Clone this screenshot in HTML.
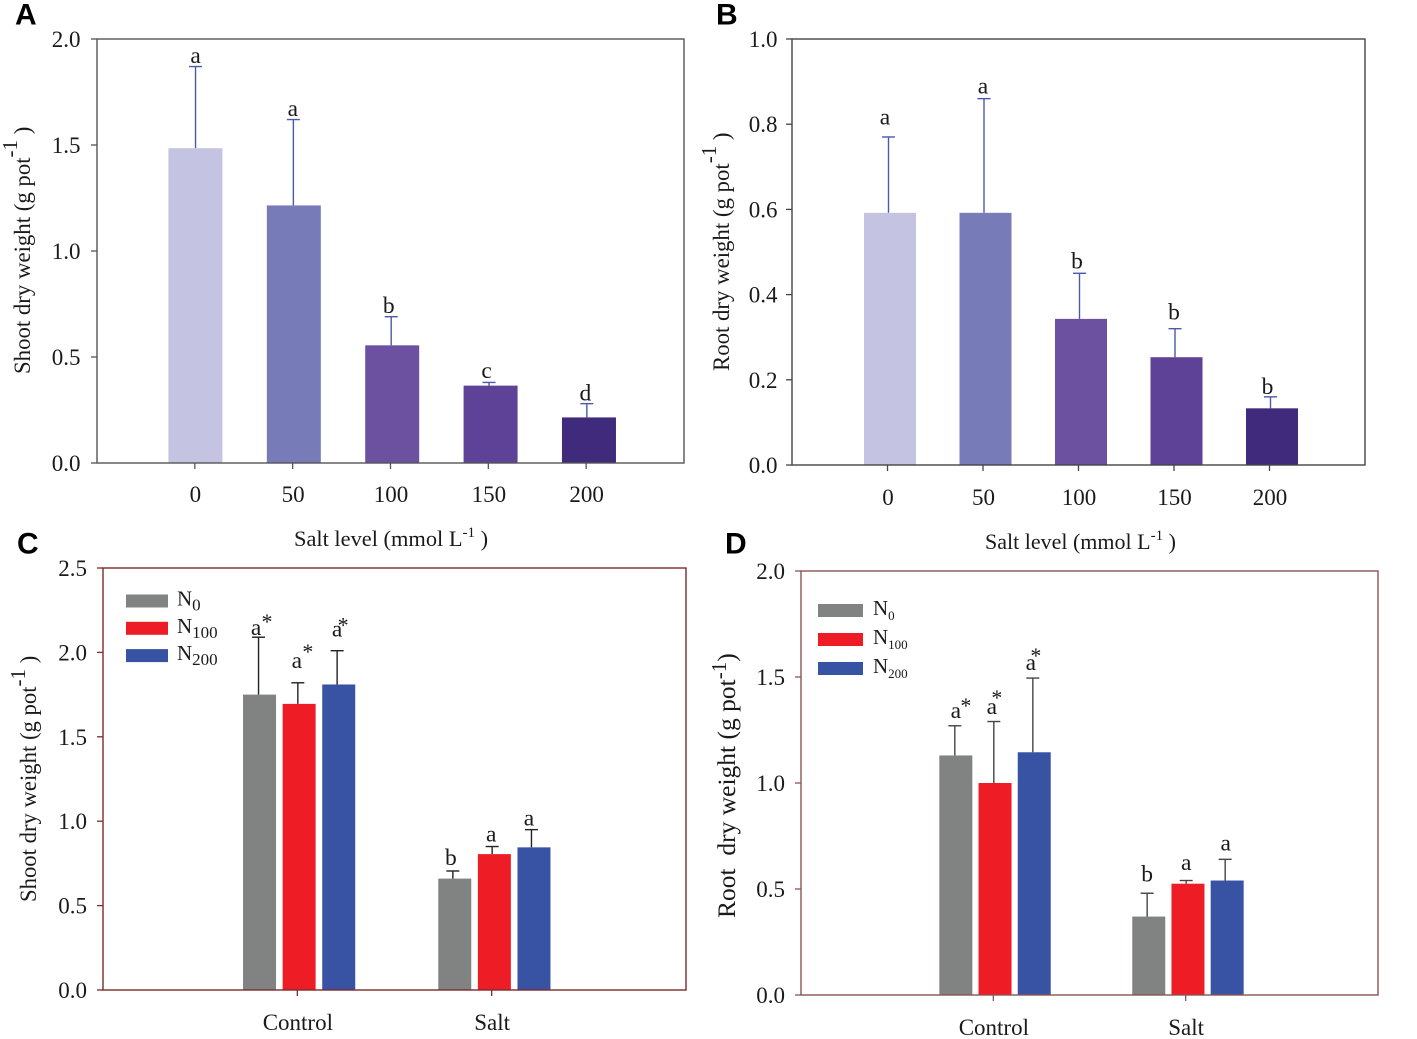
<!DOCTYPE html>
<html lang="en">
<head>
<meta charset="utf-8">
<title>Dry weight under salt and nitrogen treatments</title>
<style>
html,body{margin:0;padding:0;background:#fff;}
svg{display:block;filter:blur(0.3px);}
text{font-family:"Liberation Serif",serif;fill:#1a1a1a;}
.panel-letter{font-family:"Liberation Sans",sans-serif;font-weight:700;font-size:30px;fill:#000;}
</style>
</head>
<body>
<svg id="figure" xmlns="http://www.w3.org/2000/svg" width="1417" height="1039" viewBox="0 0 1417 1039"></svg>
<script>
// ---- Data: panels A and B ----
const saltLevels = ['0', '50', '100', '150', '200'];
const shootMeans = [1.485, 1.215, 0.555, 0.365, 0.215];
const shootErrors = [0.385, 0.405, 0.135, 0.015, 0.065];
const shootLetters = ['a', 'a', 'b', 'c', 'd'];
const rootMeans = [0.592, 0.592, 0.343, 0.253, 0.133];
const rootErrors = [0.178, 0.268, 0.107, 0.067, 0.027];
const rootLetters = ['a', 'a', 'b', 'b', 'b'];

// ---- Data: panels C and D ----
const treatments = ['Control', 'Salt'];
const nitrogenLevels = ['0', '100', '200'];
const shootN0 = [1.75, 0.66];
const shootN100 = [1.695, 0.805];
const shootN200 = [1.81, 0.845];
const shootN0Err = [0.34, 0.045];
const shootN100Err = [0.125, 0.045];
const shootN200Err = [0.20, 0.105];
const shootN0Letters = ['a*', 'b'];
const shootN100Letters = ['a*', 'a'];
const shootN200Letters = ['a*', 'a'];
const rootN0 = [1.13, 0.37];
const rootN100 = [1.00, 0.525];
const rootN200 = [1.145, 0.54];
const rootN0Err = [0.14, 0.11];
const rootN100Err = [0.29, 0.015];
const rootN200Err = [0.35, 0.10];
const rootN0Letters = ['a*', 'b'];
const rootN100Letters = ['a*', 'a'];
const rootN200Letters = ['a*', 'a'];

// ---- Tick labels ----
const ticksTwo = ['0.0', '0.5', '1.0', '1.5', '2.0'];
const ticksOne = ['0.0', '0.2', '0.4', '0.6', '0.8', '1.0'];
const ticksTwoHalf = ['0.0', '0.5', '1.0', '1.5', '2.0', '2.5'];

const NS = 'http://www.w3.org/2000/svg';
const svg = document.getElementById('figure');

function el(parent, tag, attrs, txt) {
  const node = document.createElementNS(NS, tag);
  for (const k in attrs) node.setAttribute(k, attrs[k]);
  if (txt !== undefined) node.textContent = txt;
  parent.appendChild(node);
  return node;
}

function superTitle(node, parts, supSize, rise) {
  const a = el(node, 'tspan', {}, parts[0]);
  
  
  const b = el(node, 'tspan', { dy: -rise, 'font-size': supSize }, parts[1]);
  
  
  const c = el(node, 'tspan', { dy: rise }, parts[2]);
  
  
}

function drawPanel(p) {
  const g = el(svg, 'g', {});
  
  

  const sy = v => p.bottom - (v / p.yMax) * (p.bottom - p.top);
  const sx = v => p.left + ((v - p.xMin) / (p.xMax - p.xMin)) * (p.right - p.left);

  const letter = el(g, 'text', { x: p.letterX, y: p.letterY, class: 'panel-letter' }, p.id);
  
  

  // bars, error bars, significance letters
  p.series.forEach((s, si) => {
    s.values.forEach((v, i) => {
      const n = s.values.length;
      const slot = si * n + i;
      const order = i * p.series.length + si;
      const cx = sx(i + p.xStart) + (si - (p.series.length - 1) / 2) * p.groupStep;
      const col = s.colors ? s.colors[i] : s.color;
      const top = sy(v + s.errors[i]);
      const ex = cx + p.errShift;
      const bx = cx + p.barShift + p.barDrift * order;

      const stem = el(g, 'line', { x1: ex, x2: ex, y1: sy(v), y2: top, stroke: p.errColor, 'stroke-width': 1.4 });
      
      

      const cap = el(g, 'line', { x1: ex - p.capHalf, x2: ex + p.capHalf, y1: top, y2: top, stroke: p.errColor, 'stroke-width': 1.4 });
      
      

      const bar = el(g, 'rect', { x: bx - p.barW / 2, y: sy(v), width: p.barW, height: sy(0) - sy(v), fill: col });
      
      

      const raw = s.letters[i];
      const t = el(g, 'text', { x: ex + p.labelDx[slot], y: top - p.labelLift[slot], 'text-anchor': 'middle', 'font-size': p.letterSize }, raw.replace('*', ''));
      
      
      if (raw.indexOf('*') >= 0) {
        const st = el(g, 'text', { x: ex + p.starDx[si], y: top - p.starRise[si], 'text-anchor': 'middle', 'font-size': 22 }, '*');
        
        
      }
    });
  });

  // frame
  const frame = el(g, 'rect', { x: p.left, y: p.top, width: p.right - p.left, height: p.bottom - p.top, fill: 'none', stroke: p.axisColor, 'stroke-width': 1.4 });
  
  

  // y ticks
  p.yTicks.forEach(lbl => {
    const y = sy(parseFloat(lbl));
    const tk = el(g, 'line', { x1: p.left - 6, x2: p.left, y1: y, y2: y, stroke: p.axisColor, 'stroke-width': 1.3 });
    
    
    const tl = el(g, 'text', { x: p.yLabelX, y: y + 8, 'text-anchor': 'end', 'font-size': p.tickSize }, lbl);
    
    
  });

  // x ticks
  p.categories.forEach((lbl, i) => {
    const x = sx(i + p.xStart);
    const tk = el(g, 'line', { x1: x, x2: x, y1: p.bottom, y2: p.bottom + 6, stroke: p.axisColor, 'stroke-width': 1.3 });
    
    
    const tl = el(g, 'text', { x: x + 0.5, y: p.xLabelY, 'text-anchor': 'middle', 'font-size': p.tickSize }, lbl);
    
    
  });

  // axis titles
  const yt = el(g, 'text', { transform: 'translate(' + p.yTitleX + ',' + p.yTitleY + ') rotate(-90)', 'font-size': p.yTitleSize });
  
  
  yt.style.whiteSpace = 'pre';
  superTitle(yt, p.yTitle, p.yTitleSup, p.yTitleRise);

  if (p.xTitle) {
    const xt = el(g, 'text', { x: p.xTitleX, y: p.xTitleY, 'font-size': p.xTitleSize });
    
    
    xt.style.whiteSpace = 'pre';
    superTitle(xt, p.xTitle, 15, 9);
  }

  // legend
  if (p.legend) {
    const colors = p.series.map(s => s.color);
    nitrogenLevels.forEach((lv, i) => {
      const y = p.legend.y + i * p.legend.step;
      const sw = el(g, 'rect', { x: p.legend.x, y: y, width: p.legend.w, height: 13, fill: colors[i] });
      
      
      const lt = el(g, 'text', { x: p.legend.x + p.legend.w + p.legend.gap, y: y + 11, 'font-size': 21 }, 'N');
      
      
      const sub = el(lt, 'tspan', { dy: 5, 'font-size': p.legend.subSize }, lv);
      
      
    });
  }
}

const fiveColors = ['#c4c3e1', '#777cb8', '#6b51a0', '#5e4297', '#3f2a7b'];
const nColors = ['#818382', '#ee1c25', '#3953a4'];

drawPanel({
  id: 'A', letterX: 15, letterY: 24.5, left: 97, right: 684, top: 39, bottom: 463, yMax: 2,
  xMin: -1, xMax: 5, xStart: 0, groupStep: 0, barW: 54, errShift: 0.7, capHalf: 6.5,
  barShift: 0.6, barDrift: 0.55,
  errColor: '#4a58ad', axisColor: '#555', categories: saltLevels, yTicks: ticksTwo,
  series: [{ name: 'shoot', values: shootMeans, errors: shootErrors, letters: shootLetters, colors: fiveColors }],
  labelDx: [0, -0.5, -2.5, -2.5, -1.5], labelLift: [3.5, 3.5, 3.5, 4.5, 3],
  letterSize: 23.5, tickSize: 23, yLabelX: 80.5, xLabelY: 502,
  yTitle: ['Shoot dry weight (g pot', '-1', ' )'], yTitleX: 30, yTitleY: 374, yTitleSize: 22.8, yTitleSup: 21, yTitleRise: 13,
  xTitle: ['Salt level (mmol L', '-1', ' )'], xTitleX: 294, xTitleY: 546, xTitleSize: 22.4
});
drawPanel({
  id: 'B', letterX: 716, letterY: 24.5, left: 792, right: 1365, top: 39, bottom: 465, yMax: 1,
  xMin: -1, xMax: 5, xStart: 0, groupStep: 0, barW: 52, errShift: 1, capHalf: 6.5,
  barShift: 2.5, barDrift: 0,
  errColor: '#4a58ad', axisColor: '#444', categories: saltLevels, yTicks: ticksOne,
  series: [{ name: 'root', values: rootMeans, errors: rootErrors, letters: rootLetters, colors: fiveColors }],
  labelDx: [-3.5, -1, -2.5, -1, -3], labelLift: [12.5, 5, 5, 9, 3],
  letterSize: 23.5, tickSize: 23, yLabelX: 777.5, xLabelY: 505,
  yTitle: ['Root dry weight (g pot', '-1', ' )'], yTitleX: 729, yTitleY: 371, yTitleSize: 22.8, yTitleSup: 21, yTitleRise: 13,
  xTitle: ['Salt level (mmol L', '-1', ' )'], xTitleX: 985, xTitleY: 549, xTitleSize: 22
});
drawPanel({
  id: 'C', letterX: 17, letterY: 553.5, left: 103, right: 686, top: 568, bottom: 990, yMax: 2.5,
  xMin: 0, xMax: 3, xStart: 1, groupStep: 39.3, barW: 33, errShift: 0.5, capHalf: 6.5,
  barShift: 1.5, barDrift: 0.3,
  errColor: '#222', axisColor: '#7d2b2b', categories: treatments, yTicks: ticksTwoHalf,
  series: [
    { name: 'n0', values: shootN0, errors: shootN0Err, letters: shootN0Letters, color: nColors[0] },
    { name: 'n100', values: shootN100, errors: shootN100Err, letters: shootN100Letters, color: nColors[1] },
    { name: 'n200', values: shootN200, errors: shootN200Err, letters: shootN200Letters, color: nColors[2] }
  ],
  labelDx: [-2.5, -2, -1, -1, 0, -2.5], labelLift: [2, 6, 15, 5, 14, 4],
  starDx: [8.5, 10, 6], starRise: [8, 24, 18],
  letterSize: 23.5, tickSize: 23, yLabelX: 87, xLabelY: 1030,
  yTitle: ['Shoot dry weight (g pot', '-1', ' )'], yTitleX: 36, yTitleY: 902, yTitleSize: 22.7, yTitleSup: 21, yTitleRise: 11,
  legend: { x: 126, y: 594.5, step: 27.3, w: 42, gap: 9, subSize: 17 }
});
drawPanel({
  id: 'D', letterX: 725, letterY: 553.5, left: 801, right: 1378, top: 571, bottom: 995, yMax: 2,
  xMin: 0, xMax: 3, xStart: 1, groupStep: 39, barW: 33, errShift: 0.5, capHalf: 6.5,
  barShift: 1.5, barDrift: 0.2,
  errColor: '#444', axisColor: '#8a5555', categories: treatments, yTicks: ticksTwo,
  series: [
    { name: 'n0', values: rootN0, errors: rootN0Err, letters: rootN0Letters, color: nColors[0] },
    { name: 'n100', values: rootN100, errors: rootN100Err, letters: rootN100Letters, color: nColors[1] },
    { name: 'n200', values: rootN200, errors: rootN200Err, letters: rootN200Letters, color: nColors[2] }
  ],
  labelDx: [1, 0, -2, 0, -2, 0.5], labelLift: [8, 11.5, 7.5, 10.5, 8, 9],
  starDx: [11, 3, 3], starRise: [13, 16.5, 15],
  letterSize: 23.5, tickSize: 23, yLabelX: 785, xLabelY: 1035,
  yTitle: ['Root  dry weight (g pot', '-1', ')'], yTitleX: 735, yTitleY: 918, yTitleSize: 25.5, yTitleSup: 21, yTitleRise: 9,
  legend: { x: 818, y: 604, step: 29, w: 45, gap: 10, subSize: 13 }
});
</script>
</body>
</html>
